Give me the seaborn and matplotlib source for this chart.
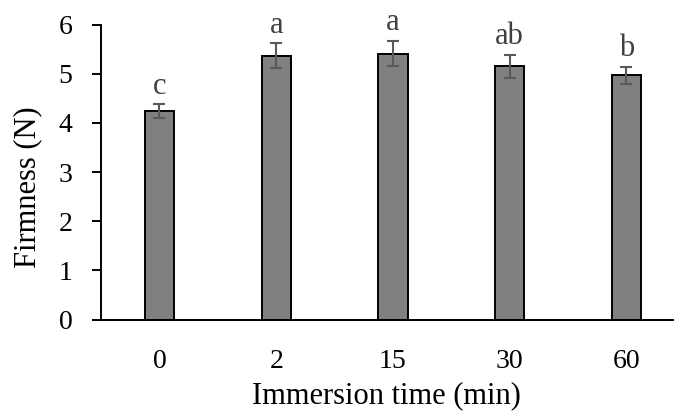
import matplotlib
matplotlib.use('Agg')
import matplotlib.pyplot as plt
import seaborn as sns
import pandas as pd

# Firmness per immersion time (mean +/- sd)
times = ['0', '2', '15', '30', '60']
firmness = [4.24, 5.37, 5.41, 5.15, 4.97]
sd = [0.14, 0.25, 0.26, 0.24, 0.17]
letters = ['c', 'a', 'a', 'ab', 'b']
y_ticks = [0, 1, 2, 3, 4, 5, 6]

df = pd.DataFrame({'time': times, 'firmness': firmness})

sns.set_style('ticks')
plt.rcParams['font.family'] = ['Liberation Serif', 'DejaVu Serif']
plt.rcParams['text.color'] = 'black'
plt.rcParams['axes.labelcolor'] = 'black'
plt.rcParams['xtick.color'] = 'black'
plt.rcParams['ytick.color'] = 'black'

fig = plt.figure(figsize=(6.74, 4.18), dpi=100)
ax = fig.add_axes([0.150, 0.2356, 0.866, 0.7057])

sns.barplot(data=df, x='time', y='firmness', order=times, color='#808080',
            saturation=1, width=0.25, edgecolor='black', linewidth=1.4, ax=ax)

# bar centres come from the bars seaborn drew
centres = [p.get_x() + p.get_width() / 2 for p in ax.patches]
ax.errorbar(centres, firmness, yerr=sd, fmt='none', ecolor='#595959',
            elinewidth=1.5, capsize=4.5, capthick=1.5, zorder=5)

for x, v, e, lab in zip(centres, firmness, sd, letters):
    ax.annotate(lab, (x, v + e), xytext=(0, 2.5), textcoords='offset points',
                ha='center', va='bottom', fontsize=22, color='#404040')

ax.set_xlim(-0.5, 4.5)
ax.set_ylim(0, 6)
ax.set_yticks(y_ticks)
ax.set_xlabel('Immersion time (min)', fontsize=22)
ax.set_ylabel('Firmness (N)', fontsize=22)
ax.xaxis.set_label_coords(0.4896, -0.21)
ax.yaxis.set_label_coords(-0.101, 0.447)

sns.despine(ax=ax)
for side in ['left', 'bottom']:
    ax.spines[side].set_linewidth(1.4)
    ax.spines[side].set_color('black')
ax.tick_params(axis='y', direction='out', length=6.5, width=1.4, pad=14, labelsize=20)
ax.tick_params(axis='x', length=0, pad=21, labelsize=20)

fig.savefig('out.png', dpi=100)
plt.close()
